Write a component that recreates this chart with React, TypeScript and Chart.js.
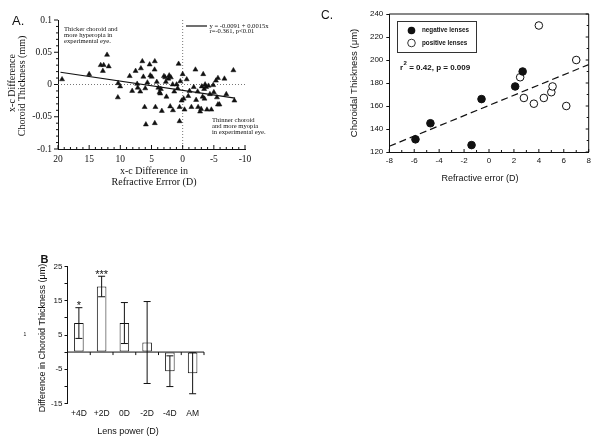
import React, { useEffect, useRef } from 'react';
import { Chart, registerables } from 'chart.js';
Chart.register(...registerables);

const SERIF = '"Liberation Serif", "Times New Roman", serif';
const SANS = '"Liberation Sans", Arial, sans-serif';
const INK = '#111';

// ---------- Panel A data ----------
const aRefraction = [
  19.35, 15.0, 13.15, 12.67, 12.8, 12.13, 11.86, 10.35, 10.03, 10.4,
  8.5, 8.1, 7.55, 7.3, 7.2, 6.8, 6.7, 6.47, 6.3, 5.66,
  6.0, 6.1, 5.9, 5.3, 5.2, 4.96, 4.47, 4.5, 4.37, 4.47,
  4.15, 3.9, 3.7, 3.6, 3.5, 3.34, 3.0, 2.8, 2.7, 2.6,
  2.3, 2.16, 2.0, 1.9, 1.6, 1.56, 1.35, 0.97, 0.8, 0.65,
  0.38, 0.5, 0.5, 0.16, 0, -0.16, -0.3, -0.65, -0.9, -1.1,
  -1.4, -1.78, -2.05, -2.16, -2.4, -2.48, -2.8, -2.96, -3.07, -3.2,
  -3.3, -3.45, -3.5, -3.6, -3.77, -3.9, -4.15, -4.37, -4.6, -4.9,
  -5.0, -5.34, -5.5, -5.66, -5.66, -5.9, -6.7, -7.0, -8.14, -8.3,
];
const aChoroid = [
  0.008, 0.016, 0.030, 0.030, 0.021, 0.046, 0.028, 0.002, -0.003, -0.020,
  0.013, -0.010, 0.021, 0.001, -0.005, -0.011, 0.025, 0.036, 0.012, 0.003,
  -0.006, -0.035, -0.062, 0.031, 0.014, 0.012, 0.036, 0.023, -0.035, -0.060,
  0.004, -0.005, -0.012, -0.014, -0.007, -0.041, 0.013, 0.011, 0.004, -0.019,
  0.009, 0.014, -0.034, 0.011, 0, -0.040, -0.011, 0, -0.006, 0.032,
  0.005, -0.035, -0.057, -0.025, 0.016, -0.022, -0.039, 0.008, -0.018, -0.010,
  -0.035, -0.004, 0.023, -0.024, -0.011, -0.035, -0.042, -0.038, -0.003, -0.019,
  0.016, -0.007, -0.022, 0, -0.004, -0.039, -0.002, -0.015, -0.039, -0.001,
  -0.012, 0.006, -0.020, 0.010, -0.031, -0.031, 0.009, -0.015, 0.022, -0.025,
];
const aFitX = [19.6, -8.4];
const aFitY = [0.019, -0.021];
const aXTicks = [20, 15, 10, 5, 0, -5, -10];
const aYTicks = [0.1, 0.05, 0, -0.05, -0.1];
const aYTickLabels = ['0.1', '0.05', '0', '-0.05', '-0.1'];

// ---------- Panel C data ----------
const cNegX = [-5.9, -4.7, -1.4, -0.6, 2.1, 2.7];
const cNegY = [131, 145, 126, 166, 177, 190];
const cPosX = [4.0, 2.5, 2.8, 3.6, 4.4, 5.0, 5.1, 6.2, 7.0];
const cPosY = [230, 185, 167, 162, 167, 172, 177, 160, 200];
const cFitX = [-8, 8];
const cFitY = [125, 196];
const cXTicks = [-8, -6, -4, -2, 0, 2, 4, 6, 8];
const cYTicks = [120, 140, 160, 180, 200, 220, 240];

// ---------- Panel B data ----------
const bLabels = ['+4D', '+2D', '0D', '-2D', '-4D', 'AM'];
const bMeans = [8.5, 19.2, 8.5, 2.8, -5.6, -6.2];
const bErrors = [4.5, 3.0, 6.0, 12.0, 4.5, 6.0];
const bStars = ['*', '***', '', '', '', ''];
const bYTicks = [-15, -10, -5, 0, 5, 10, 15, 20, 25];
const bYTickLabels = ['-15', '', '-5', '', '5', '', '15', '', '25'];

// ---------- helpers ----------
function txt(ctx: any, s: string, x: number, y: number, font: string, align = 'left', baseline = 'middle') {
  ctx.save();
  ctx.fillStyle = INK;
  ctx.font = font;
  ctx.textAlign = align;
  ctx.textBaseline = baseline;
  ctx.fillText(s, x, y);
  ctx.restore();
}
function vtxt(ctx: any, s: string, x: number, y: number, font: string) {
  ctx.save();
  ctx.translate(x, y);
  ctx.rotate(-Math.PI / 2);
  ctx.fillStyle = INK;
  ctx.font = font;
  ctx.textAlign = 'center';
  ctx.textBaseline = 'middle';
  ctx.fillText(s, 0, 0);
  ctx.restore();
}
function seg(ctx: any, x1: number, y1: number, x2: number, y2: number, w = 1, dash: number[] = [], color = INK) {
  ctx.save();
  ctx.strokeStyle = color;
  ctx.lineWidth = w;
  ctx.setLineDash(dash);
  ctx.beginPath();
  ctx.moveTo(x1, y1);
  ctx.lineTo(x2, y2);
  ctx.stroke();
  ctx.restore();
}
function labelFor(ticks: number[], labels: string[], v: number) {
  const i = ticks.findIndex((t) => Math.abs(t - v) < 1e-9);
  return i >= 0 ? labels[i] : '';
}

// ---------- configs ----------
function configA(): any {
  const W = 300, H = 225, L = 58, T = 20, R = 245, B = 149, yW = 40, xH = 30;
  return {
    data: {
      datasets: [
        {
          type: 'scatter',
          data: aRefraction.map((x, i) => ({ x, y: aChoroid[i] })),
          pointStyle: 'triangle',
          pointRadius: 2.9,
          backgroundColor: INK,
          borderColor: INK,
          borderWidth: 0.5,
        },
        {
          type: 'line',
          data: aFitX.map((x, i) => ({ x, y: aFitY[i] })),
          borderColor: INK,
          borderWidth: 1.2,
          pointRadius: 0,
          fill: false,
        },
      ],
    },
    options: {
      responsive: false,
      animation: false,
      devicePixelRatio: 1,
      layout: { padding: { left: L - yW, top: T, right: W - R, bottom: H - B - xH } },
      plugins: { legend: { display: false }, tooltip: { enabled: false } },
      scales: {
        x: {
          type: 'linear',
          reverse: true,
          min: -10,
          max: 20,
          afterBuildTicks: (s: any) => { s.ticks = aXTicks.map((v) => ({ value: v })); },
          afterFit: (s: any) => { s.height = xH; },
          grid: { display: false, drawTicks: false },
          border: { display: true, color: INK, width: 1 },
          ticks: { padding: 5, color: INK, font: { family: SERIF, size: 9.5 }, maxRotation: 0, autoSkip: false, callback: (v: any) => String(v) },
        },
        y: {
          type: 'linear',
          min: -0.1,
          max: 0.1,
          afterBuildTicks: (s: any) => { s.ticks = aYTicks.map((v) => ({ value: v })); },
          afterFit: (s: any) => { s.width = yW; },
          grid: { display: false, drawTicks: false },
          border: { display: true, color: INK, width: 1 },
          ticks: { padding: 6, color: INK, font: { family: SERIF, size: 9.5 }, autoSkip: false, callback: (v: any) => labelFor(aYTicks, aYTickLabels, v) },
        },
      },
    },
    plugins: [
      {
        id: 'decorA',
        beforeDatasetsDraw(chart: any) {
          const { ctx, chartArea: a, scales } = chart;
          const x0 = scales.x.getPixelForValue(0);
          const y0 = scales.y.getPixelForValue(0);
          seg(ctx, x0, a.top, x0, a.bottom, 1, [1, 2], '#777');
          seg(ctx, a.left, y0, a.right, y0, 1, [1, 2], '#777');
        },
        afterDraw(chart: any) {
          const { ctx, chartArea: a, scales } = chart;
          for (let v = -10; v <= 20; v++) {
            const px = scales.x.getPixelForValue(v);
            seg(ctx, px, a.bottom, px, a.bottom - (v % 5 === 0 ? 4 : 2), 1);
          }
          for (let k = -10; k <= 10; k++) {
            const py = scales.y.getPixelForValue(k / 100);
            seg(ctx, a.left, py, a.left - (k % 5 === 0 ? 4 : 2), py, 1);
          }
          txt(ctx, 'A.', 12, 21, `13px ${SANS}`);
          vtxt(ctx, 'x-c Difference', 12, 83, `10px ${SERIF}`);
          vtxt(ctx, 'Choroid Thickness (mm)', 22.5, 86, `10px ${SERIF}`);
          txt(ctx, 'x-c Difference in', 154, 171.5, `10px ${SERIF}`, 'center');
          txt(ctx, 'Refractive Errror (D)', 154, 182, `10px ${SERIF}`, 'center');
          const f = `6.6px ${SERIF}`;
          txt(ctx, 'Thicker choroid and', 64, 29, f);
          txt(ctx, 'more hyperopia in', 64, 35, f);
          txt(ctx, 'experimental eye.', 64, 41, f);
          txt(ctx, 'Thinner choroid', 212, 120, f);
          txt(ctx, 'and more myopia', 212, 126, f);
          txt(ctx, 'in experimental eye.', 212, 132, f);
          seg(ctx, 186, 26, 207, 26, 1.2);
          txt(ctx, 'y = -0.0091 + 0.0015x', 209.5, 26, f);
          txt(ctx, 'r=-0.361, p<0.01', 209.5, 31.5, f);
        },
      },
    ],
  };
}

function configC(): any {
  const W = 300, H = 225, L = 89.3, T = 14, R = 288.7, B = 152, yW = 40, xH = 25;
  return {
    data: {
      datasets: [
        {
          type: 'scatter',
          label: 'negative lenses',
          data: cNegX.map((x, i) => ({ x, y: cNegY[i] })),
          pointStyle: 'circle',
          pointRadius: 3.8,
          backgroundColor: INK,
          borderColor: INK,
          borderWidth: 1,
        },
        {
          type: 'scatter',
          label: 'positive lenses',
          data: cPosX.map((x, i) => ({ x, y: cPosY[i] })),
          pointStyle: 'circle',
          pointRadius: 3.8,
          backgroundColor: '#fff',
          borderColor: INK,
          borderWidth: 1,
        },
        {
          type: 'line',
          data: cFitX.map((x, i) => ({ x, y: cFitY[i] })),
          borderColor: INK,
          borderWidth: 1.2,
          borderDash: [7, 4],
          pointRadius: 0,
          fill: false,
        },
      ],
    },
    options: {
      responsive: false,
      animation: false,
      devicePixelRatio: 1,
      layout: { padding: { left: L - yW, top: T, right: W - R, bottom: H - B - xH } },
      plugins: { legend: { display: false }, tooltip: { enabled: false } },
      scales: {
        x: {
          type: 'linear',
          min: -8,
          max: 8,
          afterBuildTicks: (s: any) => { s.ticks = cXTicks.map((v) => ({ value: v })); },
          afterFit: (s: any) => { s.height = xH; },
          grid: { display: false, drawTicks: false },
          border: { display: true, color: INK, width: 1 },
          ticks: { padding: 4, color: INK, font: { family: SANS, size: 8 }, maxRotation: 0, autoSkip: false, callback: (v: any) => String(v) },
        },
        y: {
          type: 'linear',
          min: 120,
          max: 240,
          afterBuildTicks: (s: any) => { s.ticks = cYTicks.map((v) => ({ value: v })); },
          afterFit: (s: any) => { s.width = yW; },
          grid: { display: true, drawOnChartArea: false, drawTicks: true, tickLength: 3, color: INK },
          border: { display: true, color: INK, width: 1 },
          ticks: { padding: 3, color: INK, font: { family: SANS, size: 8 }, autoSkip: false, callback: (v: any) => String(v) },
        },
      },
    },
    plugins: [
      {
        id: 'decorC',
        afterDraw(chart: any) {
          const { ctx, chartArea: a, scales } = chart;
          seg(ctx, a.left, a.top, a.right, a.top, 1);
          seg(ctx, a.right, a.top, a.right, a.bottom, 1);
          for (let v = -8; v <= 8; v++) {
            const px = scales.x.getPixelForValue(v);
            seg(ctx, px, a.bottom, px, a.bottom - (v % 2 === 0 ? 3 : 2), 1);
          }
          for (let v = 120; v <= 240; v += 10) {
            const py = scales.y.getPixelForValue(v);
            seg(ctx, a.right, py, a.right - (v % 20 === 0 ? 3 : 2), py, 1);
          }
          txt(ctx, 'C.', 21, 16, `12px ${SANS}`);
          vtxt(ctx, 'Choroidal Thickness (\u03bcm)', 54, 83, `9.5px ${SANS}`);
          txt(ctx, 'Refractive error (D)', 180, 178.5, `9px ${SANS}`, 'center');
          // legend box
          ctx.save();
          ctx.strokeStyle = '#333';
          ctx.lineWidth = 1;
          ctx.strokeRect(97.5, 21.5, 79, 31);
          ctx.fillStyle = INK;
          ctx.beginPath();
          ctx.arc(111.5, 30.5, 3.8, 0, Math.PI * 2);
          ctx.fill();
          ctx.fillStyle = '#fff';
          ctx.beginPath();
          ctx.arc(111.5, 43, 3.8, 0, Math.PI * 2);
          ctx.fill();
          ctx.stroke();
          ctx.restore();
          txt(ctx, 'negative lenses', 122, 30.5, `bold 6.3px ${SANS}`);
          txt(ctx, 'positive lenses', 122, 43, `bold 6.3px ${SANS}`);
          txt(ctx, 'r', 100, 68, `bold 8px ${SANS}`);
          txt(ctx, '2', 103.5, 63, `bold 6px ${SANS}`);
          txt(ctx, ' = 0.42, p = 0.009', 107, 68, `bold 8px ${SANS}`);
        },
      },
    ],
  };
}

function configB(): any {
  const W = 300, H = 218, L = 67.5, T = 41.7, R = 204, B = 178.3, yW = 40, xH = 25;
  return {
    data: {
      labels: bLabels,
      datasets: [
        {
          type: 'bar',
          data: bMeans,
          backgroundColor: '#fff',
          borderColor: INK,
          borderWidth: 1,
          borderSkipped: false,
          barPercentage: 0.42,
          categoryPercentage: 1,
        },
      ],
    },
    options: {
      responsive: false,
      animation: false,
      devicePixelRatio: 1,
      layout: { padding: { left: L - yW, top: T, right: W - R, bottom: H - B - xH } },
      plugins: { legend: { display: false }, tooltip: { enabled: false } },
      scales: {
        x: {
          type: 'category',
          offset: true,
          afterFit: (s: any) => { s.height = xH; },
          grid: { display: false, drawTicks: false },
          border: { display: false },
          ticks: { padding: 5, color: INK, font: { family: SANS, size: 8.5 }, maxRotation: 0, autoSkip: false },
        },
        y: {
          type: 'linear',
          min: -15,
          max: 25,
          afterBuildTicks: (s: any) => { s.ticks = bYTicks.map((v) => ({ value: v })); },
          afterFit: (s: any) => { s.width = yW; },
          grid: { display: true, drawOnChartArea: false, drawTicks: true, tickLength: 3, color: INK },
          border: { display: true, color: INK, width: 1 },
          ticks: { padding: 2, color: INK, font: { family: SANS, size: 8 }, autoSkip: false, callback: (v: any) => labelFor(bYTicks, bYTickLabels, v) },
        },
      },
    },
    plugins: [
      {
        id: 'decorB',
        afterDatasetsDraw(chart: any) {
          const { ctx, chartArea: a, scales } = chart;
          const y0 = scales.y.getPixelForValue(0);
          seg(ctx, a.left, y0, a.right, y0, 1);
          const n = bLabels.length;
          for (let k = 0; k <= n; k++) {
            const px = a.left + ((a.right - a.left) * k) / n;
            seg(ctx, px, y0, px, y0 + 3, 1);
          }
          bMeans.forEach((m, i) => {
            const px = scales.x.getPixelForValue(i);
            const yt = scales.y.getPixelForValue(m + bErrors[i]);
            const yb = scales.y.getPixelForValue(m - bErrors[i]);
            seg(ctx, px, yt, px, yb, 1);
            seg(ctx, px - 3.5, yt, px + 3.5, yt, 1);
            seg(ctx, px - 3.5, yb, px + 3.5, yb, 1);
            if (bStars[i]) txt(ctx, bStars[i], px, yt + 1.5, `11px ${SANS}`, 'center', 'alphabetic');
          });
        },
        afterDraw(chart: any) {
          const { ctx } = chart;
          txt(ctx, 'B', 40.5, 35, `bold 11px ${SANS}`);
          vtxt(ctx, 'Difference in Choroid Thickness (\u03bcm)', 43, 113, `9px ${SANS}`);
          txt(ctx, 'Lens power (D)', 128, 206.5, `9px ${SANS}`, 'center');
          txt(ctx, '1', 25, 110, `5px ${SANS}`, 'center');
        },
      },
    ],
  };
}

function ChartCanvas({ make, left, top, width, height }: any) {
  const ref = useRef<HTMLCanvasElement>(null);
  useEffect(() => {
    const chart = new Chart(ref.current as HTMLCanvasElement, make());
    return () => chart.destroy();
  }, []);
  return (
    <canvas
      ref={ref}
      width={width}
      height={height}
      style={{ position: 'absolute', left, top, width, height, display: 'block' }}
    />
  );
}

export default function App() {
  return (
    <div style={{ position: 'absolute', left: 0, top: 0, width: 600, height: 443, background: '#fff', overflow: 'hidden' }}>
      <ChartCanvas make={configA} left={0} top={0} width={300} height={225} />
      <ChartCanvas make={configC} left={300} top={0} width={300} height={225} />
      <ChartCanvas make={configB} left={0} top={225} width={300} height={218} />
    </div>
  );
}
